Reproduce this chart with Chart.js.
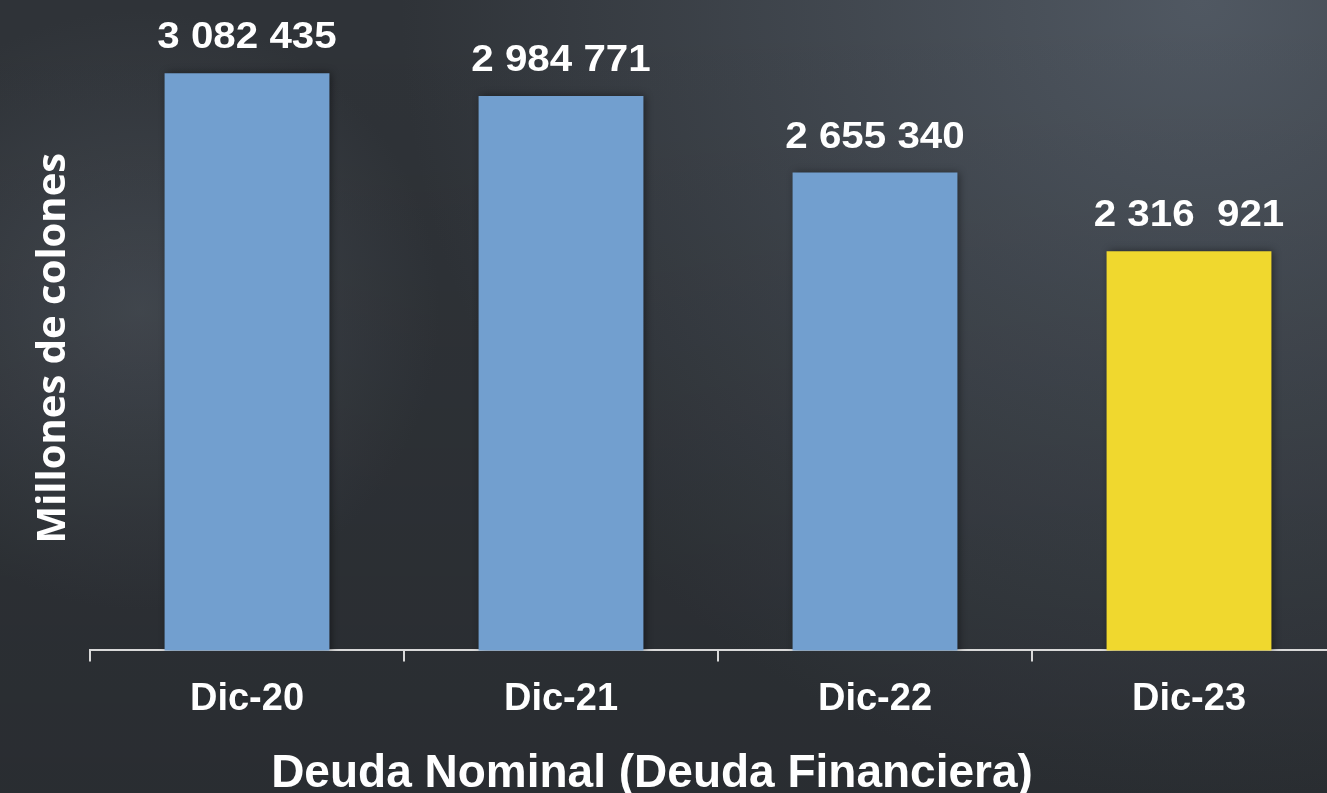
<!DOCTYPE html>
<html>
<head>
<meta charset="utf-8">
<script src="https://cdn.jsdelivr.net/npm/chart.js@4"></script>
<style>
  html, body { margin: 0; padding: 0; background: #303439; overflow: hidden; }
  #wrap { width: 1346px; height: 793px; }
</style>
</head>
<body>
<div id="wrap"><canvas id="chart"></canvas></div>
<script>
const categories = ["Dic-20", "Dic-21", "Dic-22", "Dic-23"];
const deuda = [3082435, 2984771, 2655340, 2316921];
const valueText = ["3 082 435", "2 984 771", "2 655 340", "2 316  921"];
const barColors = ["#729fcf", "#729fcf", "#729fcf", "#f0d82e"];
const xTitle = "Deuda Nominal (Deuda Financiera)";
const yTitle = "Millones de colones";

// dark slide-like background + bar shadow
const background = {
  id: "background",
  beforeDraw(chart) {
    const ctx = chart.ctx;
    const w = chart.width, h = chart.height;
    ctx.save();
    ctx.fillStyle = "#2f3338";
    ctx.fillRect(0, 0, w, h);
    let g = ctx.createRadialGradient(1200, 0, 0, 1200, 0, 800);
    g.addColorStop(0, "rgba(80,88,98,1)");
    g.addColorStop(1, "rgba(80,88,98,0)");
    ctx.fillStyle = g;
    ctx.fillRect(0, 0, w, h);
    g = ctx.createRadialGradient(140, 310, 0, 140, 310, 300);
    g.addColorStop(0, "rgba(72,78,86,0.8)");
    g.addColorStop(1, "rgba(72,78,86,0)");
    ctx.fillStyle = g;
    ctx.fillRect(0, 0, w, h);
    g = ctx.createLinearGradient(0, 0, 0, h);
    g.addColorStop(0, "rgba(0,0,0,0)");
    g.addColorStop(1, "rgba(0,0,0,0.12)");
    ctx.fillStyle = g;
    ctx.fillRect(0, 0, w, h);
    ctx.restore();
  },
  beforeDatasetsDraw(chart) {
    const ctx = chart.ctx;
    ctx.save();
    ctx.shadowColor = "rgba(0,0,0,0.45)";
    ctx.shadowBlur = 8;
    ctx.shadowOffsetX = 2;
  },
  afterDatasetsDraw(chart) {
    chart.ctx.restore();
  }
};

const valueLabels = {
  id: "valueLabels",
  afterDraw(chart) {
    const ctx = chart.ctx;
    const meta = chart.getDatasetMeta(0);
    ctx.save();
    ctx.fillStyle = "#ffffff";
    ctx.font = "bold 36px 'Liberation Sans', Arial, sans-serif";
    ctx.textAlign = "center";
    ctx.textBaseline = "middle";
    meta.data.forEach((bar, i) => {
      ctx.save();
      ctx.translate(bar.x, bar.y - 35);
      ctx.scale(1.12, 1);
      ctx.fillText(valueText[i], 0, 0);
      ctx.restore();
    });
    // x axis title, centred on the slide rather than the plot
    ctx.font = "bold 46px 'Liberation Sans', Arial, sans-serif";
    ctx.textBaseline = "alphabetic";
    ctx.fillText(xTitle, 652, 787);
    ctx.restore();
  }
};

const ctx = document.getElementById("chart").getContext("2d");
new Chart(ctx, {
  type: "bar",
  data: {
    labels: categories,
    datasets: [{
      data: deuda,
      backgroundColor: barColors,
      barPercentage: 0.525,
      categoryPercentage: 1
    }]
  },
  options: {
    responsive: true,
    maintainAspectRatio: false,
    animation: false,
    layout: { padding: { top: 46, left: 12, right: 0, bottom: 56 } },
    plugins: {
      legend: { display: false },
      tooltip: { enabled: false }
    },
    scales: {
      x: {
        grid: {
          display: true,
          offset: true,
          drawOnChartArea: false,
          drawTicks: true,
          tickLength: 11,
          color: "#d9d9d9",
          lineWidth: 2
        },
        border: { display: true, color: "#d9d9d9", width: 2 },
        ticks: {
          color: "#ffffff",
          padding: 15,
          font: { family: "'Liberation Sans', Arial, sans-serif", size: 38, weight: "bold" }
        }
      },
      y: {
        min: 600000,
        max: 3200000,
        grid: { display: false, drawTicks: false },
        border: { display: false },
        ticks: { display: false },
        title: {
          display: true,
          text: yTitle,
          color: "#ffffff",
          padding: { top: 18, bottom: 12 },
          font: { family: "'Open Sans', sans-serif", size: 40, weight: "bold" }
        }
      }
    }
  },
  plugins: [background, valueLabels]
});
</script>
</body>
</html>
